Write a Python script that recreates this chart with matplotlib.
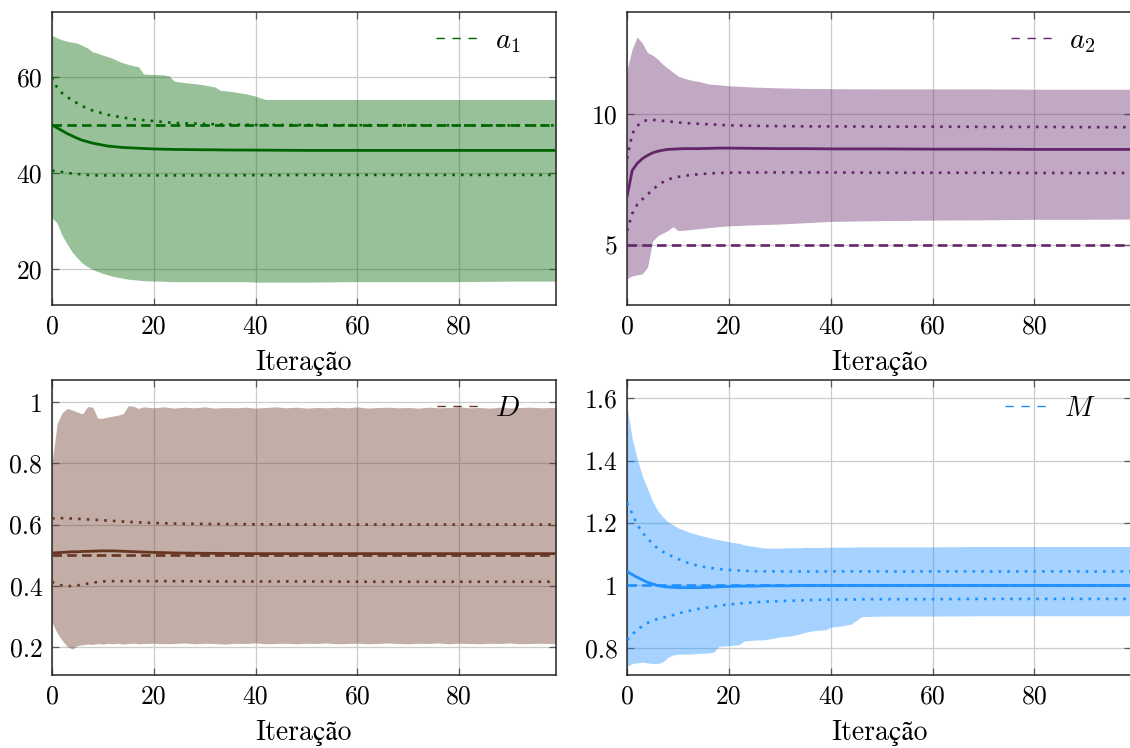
import matplotlib
matplotlib.use("Agg")
import matplotlib.pyplot as plt
from matplotlib.lines import Line2D

plt.rcParams['font.family'] = ['cmr10', 'STIXGeneral']
plt.rcParams['mathtext.fontset'] = 'cm'
plt.rcParams['axes.formatter.use_mathtext'] = True

# --- a1 ---
x_a1 = [0, 1, 2, 3, 4, 5, 6, 7, 8, 9, 10, 11, 12, 13, 14, 15, 16, 17, 18,
        20, 22, 23, 24, 26, 28, 30, 32, 33, 35, 38, 40, 41, 42, 45, 50, 60, 70, 80, 90, 99]
a1_upper = [68.6, 68.1, 67.7, 67.4, 67.2, 67.0, 66.5, 66.0, 65.2, 64.9, 64.5, 64.2, 63.8, 63.3, 62.9, 62.6, 62.3, 62.1, 60.6,
            60.5, 60.4, 60.2, 59.1, 58.8, 58.6, 58.3, 57.9, 57.2, 57.0, 56.5, 56.0, 55.6, 55.3, 55.3, 55.3, 55.3, 55.3, 55.3, 55.3, 55.3]
a1_lower = [30.7, 29.6, 27.0, 25.2, 23.5, 22.3, 21.2, 20.5, 19.9, 19.5, 19.1, 18.8, 18.5, 18.3, 18.1, 17.9, 17.8, 17.7, 17.6,
            17.5, 17.5, 17.4, 17.4, 17.4, 17.4, 17.4, 17.4, 17.4, 17.4, 17.4, 17.3, 17.3, 17.3, 17.3, 17.3, 17.4, 17.4, 17.4, 17.5, 17.5]
a1_mean = [50.0, 49.4, 48.8, 48.2, 47.7, 47.2, 46.8, 46.5, 46.2, 46.0, 45.8, 45.6, 45.5, 45.4, 45.3, 45.25, 45.2, 45.15, 45.1,
           45.0, 44.95, 44.93, 44.9, 44.88, 44.85, 44.83, 44.82, 44.8, 44.78, 44.77, 44.76, 44.76, 44.75, 44.73, 44.7, 44.7, 44.7, 44.7, 44.7, 44.7]
a1_hi = [59.9, 57.8, 56.6, 55.8, 55.1, 54.5, 53.9, 53.4, 53.0, 52.7, 52.4, 52.1, 51.9, 51.7, 51.5, 51.4, 51.2, 51.1, 51.0,
         50.8, 50.6, 50.5, 50.4, 50.35, 50.3, 50.2, 50.15, 50.1, 50.1, 50.05, 50.0, 50.0, 50.0, 50.0, 50.0, 49.95, 49.95, 49.9, 49.9, 49.9]
a1_lo = [40.5, 40.4, 40.2, 40.0, 39.9, 39.8, 39.7, 39.6, 39.55, 39.5, 39.5, 39.5, 39.5, 39.5, 39.5, 39.5, 39.5, 39.5, 39.5,
         39.5, 39.5, 39.5, 39.5, 39.5, 39.5, 39.5, 39.5, 39.5, 39.5, 39.55, 39.55, 39.55, 39.55, 39.55, 39.6, 39.6, 39.6, 39.6, 39.6, 39.6]
a1_true = 50.0

# --- a2 ---
x_a2 = [0, 1, 2, 3, 4, 5, 6, 7, 8, 9, 10, 11, 12, 13, 14, 16, 18, 20, 25, 30, 35, 40, 50, 60, 70, 80, 90, 99]
a2_upper = [11.7, 12.5, 12.95, 12.7, 12.35, 12.25, 12.1, 11.9, 11.75, 11.6, 11.45, 11.38, 11.32, 11.28, 11.25,
            11.15, 11.12, 11.08, 11.03, 11.0, 10.98, 10.97, 10.96, 10.96, 10.96, 10.95, 10.95, 10.95]
a2_lower = [3.72, 3.82, 3.86, 3.9, 4.15, 5.15, 5.35, 5.45, 5.55, 5.7, 5.55, 5.56, 5.58, 5.6, 5.62,
            5.66, 5.7, 5.73, 5.77, 5.8, 5.85, 5.9, 5.93, 5.95, 5.96, 5.98, 5.98, 5.99]
a2_mean = [6.87, 7.85, 8.12, 8.3, 8.42, 8.52, 8.58, 8.62, 8.65, 8.66, 8.67, 8.68, 8.68, 8.68, 8.68,
           8.69, 8.7, 8.7, 8.69, 8.68, 8.68, 8.67, 8.67, 8.66, 8.66, 8.65, 8.65, 8.65]
a2_hi = [8.3, 9.25, 9.55, 9.72, 9.77, 9.78, 9.76, 9.74, 9.72, 9.7, 9.68, 9.66, 9.65, 9.64, 9.63,
         9.61, 9.59, 9.57, 9.55, 9.54, 9.53, 9.53, 9.52, 9.52, 9.51, 9.51, 9.5, 9.5]
a2_lo = [5.54, 6.2, 6.55, 6.75, 6.93, 7.1, 7.28, 7.4, 7.5, 7.56, 7.6, 7.63, 7.66, 7.68, 7.7,
         7.73, 7.75, 7.76, 7.77, 7.77, 7.77, 7.77, 7.76, 7.76, 7.76, 7.75, 7.75, 7.75]
a2_true = 5.0

# --- D ---
x_D = list(range(0, 19)) + list(range(20, 99, 2)) + [99]
D_upper = [0.800, 0.930, 0.966, 0.980, 0.975, 0.968, 0.962, 0.986, 0.984, 0.948,
           0.948, 0.952, 0.955, 0.958, 0.963, 0.989, 0.987, 0.980, 0.985,
           0.982, 0.985, 0.981, 0.984, 0.982, 0.985, 0.981, 0.983, 0.982, 0.984,
           0.981, 0.983, 0.985, 0.982, 0.984, 0.981, 0.983, 0.982, 0.984, 0.982,
           0.985, 0.981, 0.983, 0.984, 0.982, 0.983, 0.981, 0.984, 0.982, 0.983,
           0.985, 0.982, 0.983, 0.981, 0.984, 0.982, 0.983, 0.984, 0.982, 0.983,
           0.983]
D_lower = [0.280, 0.246, 0.221, 0.201, 0.193, 0.204, 0.207, 0.209, 0.208, 0.211,
           0.209, 0.211, 0.210, 0.212, 0.209, 0.211, 0.212, 0.210, 0.211,
           0.212, 0.210, 0.211, 0.213, 0.210, 0.212, 0.211, 0.209, 0.212, 0.211,
           0.213, 0.210, 0.211, 0.212, 0.210, 0.212, 0.211, 0.213, 0.210, 0.211,
           0.212, 0.210, 0.211, 0.213, 0.211, 0.210, 0.212, 0.211, 0.213, 0.210,
           0.212, 0.211, 0.210, 0.212, 0.211, 0.213, 0.210, 0.211, 0.212, 0.211,
           0.211]
x_D_line = [0, 1, 2, 3, 4, 5, 6, 8, 10, 12, 15, 20, 25, 30, 40, 50, 60, 70, 80, 90, 99]
D_mean = [0.507, 0.508, 0.509, 0.510, 0.511, 0.511, 0.512, 0.513, 0.514, 0.514, 0.512,
          0.509, 0.507, 0.506, 0.505, 0.505, 0.505, 0.505, 0.505, 0.505, 0.505]
D_hi = [0.620, 0.621, 0.621, 0.620, 0.620, 0.619, 0.618, 0.616, 0.614, 0.612, 0.609,
        0.605, 0.603, 0.602, 0.601, 0.600, 0.600, 0.600, 0.600, 0.600, 0.600]
D_lo = [0.413, 0.404, 0.401, 0.399, 0.399, 0.401, 0.404, 0.410, 0.414, 0.415, 0.415,
        0.415, 0.415, 0.414, 0.414, 0.414, 0.413, 0.413, 0.413, 0.413, 0.413]
D_true = 0.5

# --- M ---
x_M = [0, 1, 2, 3, 4, 5, 6, 7, 8, 9, 10, 12, 14, 16, 17, 18, 20, 22, 23, 25, 27, 30,
       32, 34, 35, 37, 39, 40, 42, 44, 46, 50, 60, 70, 80, 90, 99]
M_upper = [1.57, 1.47, 1.405, 1.35, 1.31, 1.27, 1.24, 1.22, 1.205, 1.195, 1.185,
           1.172, 1.162, 1.154, 1.15, 1.147, 1.14, 1.135, 1.13, 1.125, 1.12, 1.12, 1.121, 1.121, 1.122,
           1.122, 1.122, 1.123, 1.123, 1.123, 1.124, 1.124, 1.124, 1.125, 1.125, 1.125, 1.125]
M_lower = [0.74, 0.75, 0.752, 0.754, 0.752, 0.75, 0.75, 0.755, 0.77, 0.777, 0.78,
           0.78, 0.782, 0.784, 0.786, 0.805, 0.807, 0.81, 0.822, 0.825, 0.826, 0.835, 0.838, 0.845, 0.85,
           0.856, 0.858, 0.866, 0.87, 0.876, 0.9, 0.902, 0.902, 0.903, 0.903, 0.903, 0.903]
M_mean = [1.045, 1.035, 1.026, 1.018, 1.01, 1.005, 1.0, 0.997, 0.995, 0.994, 0.993,
          0.993, 0.993, 0.994, 0.995, 0.996, 0.997, 0.998, 0.998, 0.998, 0.999, 0.999, 0.999,
          1.0, 1.0, 1.0, 1.0, 1.0, 1.0, 1.0, 1.0, 1.0, 1.0, 1.0, 1.0, 1.0, 1.0]
M_hi = [1.265, 1.23, 1.195, 1.17, 1.15, 1.135, 1.118, 1.108, 1.1, 1.092, 1.085,
        1.072, 1.063, 1.057, 1.055, 1.053, 1.05, 1.048, 1.047, 1.046, 1.045, 1.045,
        1.045, 1.045, 1.045, 1.045, 1.045, 1.045, 1.045, 1.045, 1.045, 1.045, 1.045, 1.045, 1.045, 1.045, 1.045]
M_lo = [0.825, 0.843, 0.858, 0.87, 0.88, 0.887, 0.893, 0.897, 0.9, 0.905, 0.91,
        0.918, 0.925, 0.93, 0.933, 0.935, 0.939, 0.942, 0.944, 0.946, 0.948, 0.95, 0.951, 0.952, 0.953,
        0.954, 0.954, 0.955, 0.955, 0.955, 0.956, 0.956, 0.956, 0.957, 0.957, 0.957, 0.957]
M_true = 1.0

FS = 18.5


def draw_panel(rect, xb, upper, lower, xl, mean, hi, lo, true_val, color, label,
               ylim, yticks, ylabels):
    ax = fig.add_axes(rect)
    ax.set_axisbelow(True)
    # band, mean, mean +/- std and the true value
    ax.fill_between(xb, lower, upper, color=color, alpha=0.4, lw=0, zorder=2)
    ax.plot(xl, mean, color=color, lw=2.0, zorder=4)
    ax.plot(xl, hi, color=color, lw=1.9, ls=(0, (1, 2.3)), zorder=4)
    ax.plot(xl, lo, color=color, lw=1.9, ls=(0, (1, 2.3)), zorder=4)
    ax.plot([0, 99], [true_val, true_val], color=color, lw=1.9, ls=(0, (3.6, 2.0)), zorder=3)

    ax.set_xlim(0, 99)
    ax.set_ylim(*ylim)
    ax.set_xticks([0, 20, 40, 60, 80])
    ax.set_xticklabels(['0', '20', '40', '60', '80'])
    ax.set_yticks(yticks)
    ax.set_yticklabels(ylabels)
    ax.grid(True, color='0.80', lw=0.9)
    ax.tick_params(direction='in', top=True, right=True, length=5, width=0.9,
                   color='0.35', labelsize=FS, pad=7)
    for sp in ax.spines.values():
        sp.set_linewidth(1.1)
        sp.set_color('0.15')
    ax.set_xlabel('Iteração', fontsize=FS + 1.5, labelpad=8)

    handle = Line2D([], [], color=color, lw=1.0, ls=(0, (6, 5.5)))
    ax.legend([handle], [label], loc='upper right', bbox_to_anchor=(0.98, 1.035),
              frameon=False, fontsize=FS + 2, handlelength=1.6, handletextpad=0.45)
    return ax


fig = plt.figure(figsize=(11.3, 7.48), dpi=100)

draw_panel([0.046, 0.592, 0.446, 0.392], x_a1, a1_upper, a1_lower, x_a1, a1_mean, a1_hi, a1_lo,
           a1_true, 'darkgreen', r'$a_1$', (12.5, 73.5), [20, 40, 60], ['20', '40', '60'])
draw_panel([0.555, 0.592, 0.446, 0.392], x_a2, a2_upper, a2_lower, x_a2, a2_mean, a2_hi, a2_lo,
           a2_true, '#642669', r'$a_2$', (2.7, 13.9), [5, 10], ['5', '10'])
draw_panel([0.046, 0.0976, 0.446, 0.394], x_D, D_upper, D_lower, x_D_line, D_mean, D_hi, D_lo,
           D_true, '#673623', r'$D$', (0.108, 1.072), [0.2, 0.4, 0.6, 0.8, 1.0],
           ['0.2', '0.4', '0.6', '0.8', '1'])
draw_panel([0.555, 0.0976, 0.446, 0.394], x_M, M_upper, M_lower, x_M, M_mean, M_hi, M_lo,
           M_true, 'dodgerblue', r'$M$', (0.713, 1.658), [0.8, 1.0, 1.2, 1.4, 1.6],
           ['0.8', '1', '1.2', '1.4', '1.6'])

fig.savefig('out.png', dpi=100)
